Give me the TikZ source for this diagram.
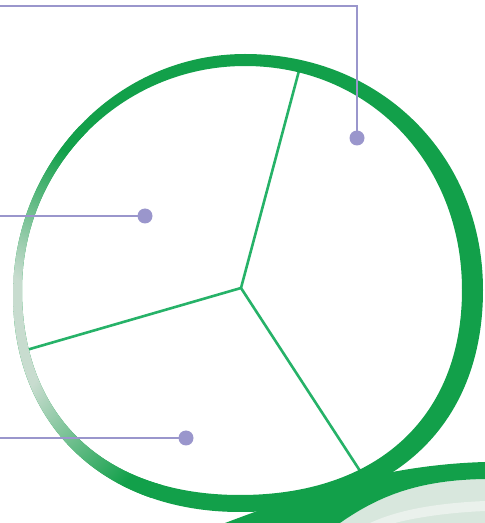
\documentclass[tikz,border=0pt]{standalone}
\definecolor{ringgreen}{RGB}{18,160,74}
\definecolor{spokegreen}{RGB}{38,178,104}
\definecolor{palegreen}{RGB}{200,220,207}
\colorlet{midgreen}{palegreen!50!ringgreen}
\definecolor{leadc}{RGB}{154,150,204}
\definecolor{swpale}{RGB}{216,231,221}
\definecolor{swlight}{RGB}{234,241,236}
\pgfdeclareradialshading{ringfade}{\pgfpoint{0bp}{0bp}}{color(0bp)=(palegreen); color(8bp)=(palegreen); color(15bp)=(midgreen); color(22bp)=(ringgreen); color(50bp)=(ringgreen)}
\tikzset{
  spoke/.style={draw=spokegreen, line width=2.6pt},
  leader/.style={draw=leadc, line width=1.5pt},
  dot/.style={circle, fill=leadc, inner sep=0pt, minimum size=15pt}
}
\begin{document}
\begin{tikzpicture}[x=1pt,y=1pt]
\useasboundingbox (0,0) rectangle (485,523);
\fill[white] (0,0) rectangle (485,523);
% spokes
\coordinate (hub) at (241,235);
\coordinate (s1) at (300,456);
\coordinate (s2) at (23,172);
\coordinate (s3) at (364,46);
\draw[spoke] (hub) -- (s1);
\draw[spoke] (hub) -- (s2);
\draw[spoke] (hub) -- (s3);
% ring
\begin{scope}[even odd rule]
\clip (245,469) .. controls (380.7,469) and (483,367.5) .. (483,233)
  .. controls (483,95.4) and (390.7,11) .. (240,11)
  .. controls (103.8,11) and (13,97.8) .. (13,228)
  .. controls (13,361.1) and (116.9,469) .. (245,469) -- cycle
  (245,457) .. controls (368.7,457) and (462,360.7) .. (462,233)
  .. controls (462,105.9) and (377.6,28) .. (240,28)
  .. controls (104.8,28) and (22,105.9) .. (22,233)
  .. controls (22,356.7) and (121.8,457) .. (245,457) -- cycle;
\fill[ringgreen] (0,0) rectangle (485,523);
\shade[shading=ringfade] (-30,183) circle [radius=240];
\end{scope}
% swoosh
\fill[swpale] (340,0) .. controls (380,28) and (420,43) .. (485,44) -- (485,0) -- cycle;
\fill[swlight] (370,0) .. controls (400,14) and (440,20) .. (485,22) -- (485,12) .. controls (440,10) and (410,4) .. (395,0) -- cycle;
\fill[ringgreen] (225,0) .. controls (300,28) and (380,58) .. (485,61)
  -- (485,44) .. controls (420,43) and (380,28) .. (340,0) -- cycle;
% leaders
\node[dot] (d1) at (357,385) {};
\coordinate (c1) at (357,517);
\coordinate (e1) at (0,517);
\draw[leader] (d1.center) -- (c1) -- (e1);
\node[dot] (d2) at (145,307) {};
\coordinate (e2) at (0,307);
\draw[leader] (d2.center) -- (e2);
\node[dot] (d3) at (186,85) {};
\coordinate (e3) at (0,85);
\draw[leader] (d3.center) -- (e3);
\end{tikzpicture}
\end{document}
